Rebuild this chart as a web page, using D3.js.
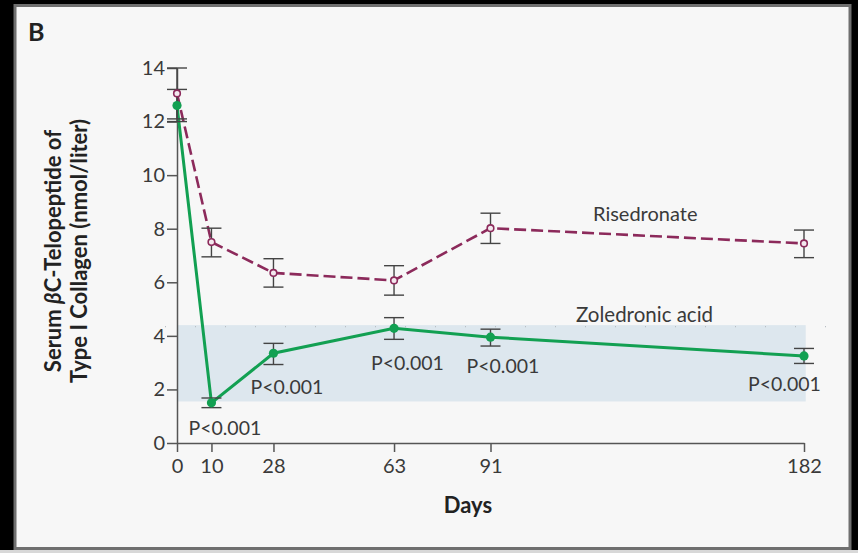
<!DOCTYPE html>
<html>
<head>
<meta charset="utf-8">
<script src="https://cdn.jsdelivr.net/npm/d3@7"></script>
<style>
  html, body { margin: 0; padding: 0; background: #000; }
  svg { display: block; }
  text { font-family: Lato, "Open Sans", sans-serif; fill: #3a3a3a; }
</style>
</head>
<body>
<svg id="chart" width="858" height="553"></svg>
<script>
// Study days at which serum beta-CTx was measured
const days = [0, 10, 28, 63, 91, 182];

// Risedronate group: mean and error-bar limits (nmol/liter)
const risMean = [13.05, 7.5, 6.35, 6.07, 8.02, 7.45];
const risLow  = [12.1, 6.95, 5.82, 5.52, 7.45, 6.92];
const risHigh = [14.0, 8.02, 6.88, 6.62, 8.58, 7.95];

// Zoledronic acid group: mean and error-bar limits (nmol/liter)
const zolMean = [12.6, 1.5, 3.35, 4.28, 3.95, 3.25];
const zolLow  = [12.0, 1.32, 2.93, 3.87, 3.62, 2.97];
const zolHigh = [13.2, 1.68, 3.72, 4.68, 4.25, 3.53];

// Reference range shown as a shaded band
const refRange = [1.55, 4.4];

// Axis ticks
const xTicks = [0, 10, 28, 63, 91, 182];
const yTicks = [0, 2, 4, 6, 8, 10, 12, 14];

// P-value annotations for the between-group comparison
const pDays = [10, 28, 63, 91, 182];
const pText = ["P<0.001", "P<0.001", "P<0.001", "P<0.001", "P<0.001"];

const svg = d3.select("#chart");

// Panel card
svg.append("rect").attr("x", 0).attr("y", 0).attr("width", 858).attr("height", 553).attr("fill", "#000");
svg.append("rect").attr("x", 0).attr("y", 550).attr("width", 858).attr("height", 3).attr("fill", "#d8d8d8");
svg.append("rect")
  .attr("x", 15).attr("y", 5.5).attr("width", 835).attr("height", 543)
  .attr("fill", "#f7f7f7").attr("stroke", "#6f6f6f").attr("stroke-width", 3);

const x = d3.scaleLinear().domain([0, 182]).range([177, 804]);
const y = d3.scaleLinear().domain([0, 14]).range([443, 68]);

// Panel letter
svg.append("text").attr("x", 28).attr("y", 41)
  .attr("font-size", 25).attr("font-weight", 700).style("fill", "#222").text("B");

// Shaded reference band
svg.append("rect")
  .attr("x", x(0)).attr("y", y(refRange[1]))
  .attr("width", x(182.5) - x(0)).attr("height", y(refRange[0]) - y(refRange[1]))
  .attr("fill", "#dde7ee");
svg.append("line")
  .attr("x1", 165).attr("x2", 830).attr("y1", y(refRange[1]) + 1.5).attr("y2", y(refRange[1]) + 1.5)
  .attr("stroke", "#b8bec4").attr("stroke-width", 1.2).attr("stroke-dasharray", "1,29");

// Axes
const axisColor = "#555";
const xAxis = svg.append("g").attr("transform", `translate(0,${y(0)})`)
  .call(d3.axisBottom(x).tickValues(xTicks).tickSize(9).tickSizeOuter(0).tickPadding(7));
const yAxis = svg.append("g").attr("transform", `translate(${x(0)},0)`)
  .call(d3.axisLeft(y).tickValues(yTicks).tickSize(10).tickSizeOuter(0).tickPadding(2));
[xAxis, yAxis].forEach(g => {
  g.select(".domain").attr("stroke", axisColor).attr("stroke-width", 1.5);
  g.selectAll(".tick line").attr("stroke", axisColor).attr("stroke-width", 1.5);
  g.selectAll(".tick text").attr("font-size", 20).attr("font-family", "Lato, sans-serif").style("fill", "#3a3a3a");
});
xAxis.selectAll(".tick text").attr("dy", "0.71em");

// Axis titles
svg.append("text").attr("x", 468).attr("y", 513).attr("text-anchor", "middle")
  .attr("font-size", 22).attr("font-weight", 700).style("fill", "#222").text("Days");

const yTitle = svg.append("g").attr("transform", "translate(0,251) rotate(-90)");
const t1 = yTitle.append("text").attr("x", 0).attr("y", 61).attr("text-anchor", "middle")
  .attr("font-size", 22).attr("font-weight", 700).style("fill", "#222");
t1.append("tspan").text("Serum ");
t1.append("tspan").attr("font-style", "italic").text("β");
t1.append("tspan").text("C-Telopeptide of");
yTitle.append("text").attr("x", 0).attr("y", 87).attr("text-anchor", "middle")
  .attr("font-size", 22).attr("font-weight", 700).style("fill", "#222")
  .text("Type I Collagen (nmol/liter)");

// Series drawing helper
const risColor = "#8c2a5b";
const zolColor = "#12a052";

function series(mean) {
  return days.map((d, i) => [x(d), y(mean[i])]);
}
const line = d3.line();

svg.append("path").attr("d", line(series(risMean)))
  .attr("fill", "none").attr("stroke", risColor).attr("stroke-width", 2.6)
  .attr("stroke-dasharray", "12,5");
svg.append("path").attr("d", line(series(zolMean)))
  .attr("fill", "none").attr("stroke", zolColor).attr("stroke-width", 3);

// Error bars
function errorBars(low, high) {
  const g = svg.append("g").attr("stroke", "#444").attr("stroke-width", 1.4);
  days.forEach((d, i) => {
    const cx = x(d);
    g.append("line").attr("x1", cx).attr("x2", cx).attr("y1", y(low[i])).attr("y2", y(high[i]));
    g.append("line").attr("x1", cx - 10).attr("x2", cx + 10).attr("y1", y(low[i])).attr("y2", y(low[i]));
    g.append("line").attr("x1", cx - 10).attr("x2", cx + 10).attr("y1", y(high[i])).attr("y2", y(high[i]));
  });
}
errorBars(risLow, risHigh);
errorBars(zolLow, zolHigh);

// Markers
svg.append("g").selectAll("circle").data(days).join("circle")
  .attr("cx", d => x(d)).attr("cy", (d, i) => y(risMean[i])).attr("r", 3.3)
  .attr("fill", "#f3e8ee").attr("stroke", risColor).attr("stroke-width", 1.6);
svg.append("g").selectAll("circle").data(days).join("circle")
  .attr("cx", d => x(d)).attr("cy", (d, i) => y(zolMean[i])).attr("r", 4.6)
  .attr("fill", zolColor);

// Series labels
svg.append("text").attr("x", 593).attr("y", 221).attr("font-size", 20).text("Risedronate");
svg.append("text").attr("x", 576).attr("y", 322).attr("font-size", 20.5).text("Zoledronic acid");

// P-value labels: horizontal / vertical offsets from the zoledronic acid point
const pOffsets = [[-23, 32], [-23, 41], [-23, 42], [-24, 36], [-56, 35]];
pDays.forEach((d, k) => {
  const i = days.indexOf(d);
  svg.append("text")
    .attr("x", x(d) + pOffsets[k][0])
    .attr("y", y(zolMean[i]) + pOffsets[k][1])
    .attr("font-size", 19.5).text(pText[k]);
});
</script>
</body>
</html>
